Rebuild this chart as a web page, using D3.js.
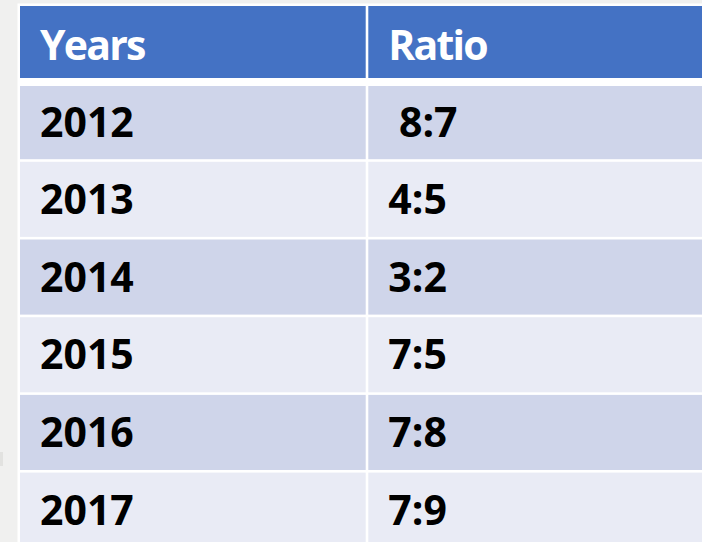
<!DOCTYPE html>
<html>
<head>
<meta charset="utf-8">
<script src="https://cdn.jsdelivr.net/npm/d3@7"></script>
<style>
  html, body { margin: 0; padding: 0; background: #f0f0ef; overflow: hidden; }
  text { font-family: "Open Sans", sans-serif; font-weight: 700; white-space: pre; }
</style>
</head>
<body>
<div id="chart"></div>
<script>
const headers = ["Years", "Ratio"];
const years = ["2012", "2013", "2014", "2015", "2016", "2017"];
const ratios = [" 8:7", "4:5", "3:2", "7:5", "7:8", "7:9"];

const W = 702, H = 542;
const fontSize = 41;
const capH = fontSize * 0.714;

const svg = d3.select("#chart").append("svg")
  .attr("width", W)
  .attr("height", H);

// columns: first starts at 20, divider around 367
const x = d3.scaleOrdinal().domain(headers).range([20, 368.3]);
const colW = { Years: 345.7, Ratio: 400 };

// body rows, pitch ~77.7 px
const y = d3.scaleBand()
  .domain(years)
  .range([82.8, 82.8 + 77.7 * years.length])
  .paddingInner(0)
  .paddingOuter(0);

// white table backing
svg.append("rect")
  .attr("x", 17.5).attr("y", 3.5)
  .attr("width", W).attr("height", H)
  .attr("fill", "#ffffff");

// header
const head = svg.append("g");
head.selectAll("rect")
  .data(headers)
  .join("rect")
  .attr("x", d => x(d))
  .attr("y", 6)
  .attr("width", d => colW[d])
  .attr("height", 72)
  .attr("fill", "#4472c4");
head.selectAll("text")
  .data(headers)
  .join("text")
  .attr("x", d => x(d) + 20)
  .attr("y", 45.5 + capH / 2)
  .attr("fill", "#ffffff")
  .style("font-size", fontSize + "px")
  .style("letter-spacing", "-1.8px")
  .text(d => d);

// body
const rows = years.map((yr, i) => ({ year: yr, cells: [yr, ratios[i]], i }));
const rowG = svg.selectAll(".row")
  .data(rows)
  .join("g")
  .attr("class", "row");

rowG.each(function (r) {
  const g = d3.select(this);
  const top = r.i === 0 ? 86 : y(r.year) + 1.3;
  const bottom = y(r.year) + y.bandwidth() - 1.3;
  const fill = r.i % 2 === 0 ? "#cfd5ea" : "#e9ebf5";
  headers.forEach((h, c) => {
    g.append("rect")
      .attr("x", x(h))
      .attr("y", top)
      .attr("width", colW[h])
      .attr("height", bottom - top)
      .attr("fill", fill);
    g.append("text")
      .attr("x", x(h) + 20)
      .attr("y", (top + bottom) / 2 + capH / 2)
      .attr("fill", "#000000")
      .style("font-size", fontSize + "px")
      .text(r.cells[c]);
  });
});

// small grey mark at left edge
svg.append("rect")
  .attr("x", 0).attr("y", 452)
  .attr("width", 3).attr("height", 14)
  .attr("fill", "#e2e2e0");
</script>
</body>
</html>
